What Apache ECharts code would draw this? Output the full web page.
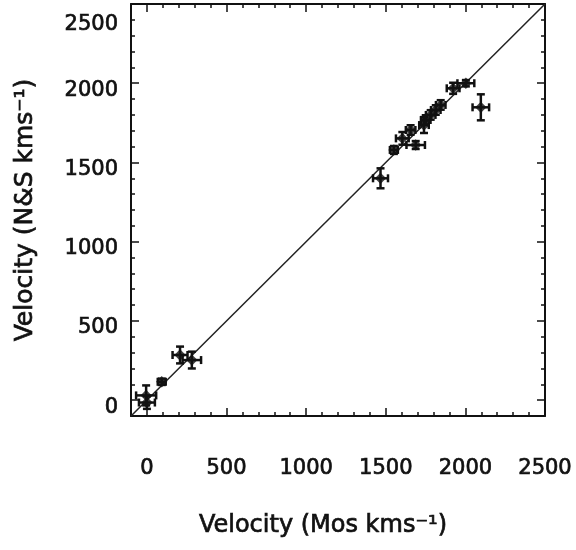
<!DOCTYPE html>
<html>
<head>
<meta charset="utf-8">
<script src="https://cdn.jsdelivr.net/npm/echarts@6/dist/echarts.min.js"></script>
<style>
html, body { margin: 0; background: #fff; }
#main { width: 576px; height: 550px; }
</style>
</head>
<body>
<div id="main"></div>
<script>
// velocities in km/s (Mos = x, N&S = y)
var mosVel = [-5, 0, 93, 208, 282, 1467, 1551, 1604, 1656, 1688, 1740, 1751, 1782, 1814, 1845, 1923, 2003, 2097];
var nsVel  = [30, -15, 116, 285, 253, 1400, 1579, 1652, 1705, 1610, 1736, 1768, 1800, 1831, 1863, 1968, 2000, 1848];
// 1-sigma errors
var mosErr = [63, 50, 25, 47, 58, 47, 25, 40, 30, 58, 30, 30, 30, 30, 30, 40, 53, 52];
var nsErr  = [63, 40, 20, 53, 53, 63, 25, 40, 30, 25, 50, 30, 30, 30, 30, 35, 20, 82];
// one-to-one line ends
var lineEnds = [-100, 2500];

var AX_MIN = -100, AX_MAX = 2500;
var INK = '#111';
var FONT = 'DejaVu Sans';
// regular face, thickened a little to look like the scanned lettering
var textInk = { color: INK, fontFamily: FONT, textBorderColor: INK, textBorderWidth: 0.7 };

var points = mosVel.map(function (v, i) { return [v, nsVel[i], mosErr[i], nsErr[i]]; });

function errBars(params, api) {
  var x = api.value(0), y = api.value(1), ex = api.value(2), ey = api.value(3);
  var c = api.coord([x, y]);
  var l = api.coord([x - ex, y])[0], r = api.coord([x + ex, y])[0];
  var t = api.coord([x, y + ey])[1], b = api.coord([x, y - ey])[1];
  var cap = 4;
  var st = { stroke: INK, lineWidth: 2.5 };
  return {
    type: 'group',
    children: [
      { type: 'line', shape: { x1: l, y1: c[1], x2: r, y2: c[1] }, style: st },
      { type: 'line', shape: { x1: l, y1: c[1] - cap, x2: l, y2: c[1] + cap }, style: st },
      { type: 'line', shape: { x1: r, y1: c[1] - cap, x2: r, y2: c[1] + cap }, style: st },
      { type: 'line', shape: { x1: c[0], y1: t, x2: c[0], y2: b }, style: st },
      { type: 'line', shape: { x1: c[0] - cap, y1: t, x2: c[0] + cap, y2: t }, style: st },
      { type: 'line', shape: { x1: c[0] - cap, y1: b, x2: c[0] + cap, y2: b }, style: st }
    ]
  };
}

function withInk(extra) {
  return Object.assign({}, textInk, extra);
}

// major axis (labels, long ticks) and minor axis (short ticks every 100)
function axis(pos, major, withLabels) {
  var a = {
    type: 'value',
    position: pos,
    min: AX_MIN,
    max: AX_MAX,
    axisLine: { show: major, onZero: false, lineStyle: { color: INK, width: 2 } },
    axisTick: { show: true, inside: true, length: major ? 8 : 4, lineStyle: { color: INK, width: 1.5 } },
    axisLabel: { show: false },
    splitLine: { show: false }
  };
  if (major) a.splitNumber = 5; else a.interval = 100;
  if (withLabels) {
    a.axisLabel = withInk({
      show: true, showMinLabel: false, fontSize: 21,
      formatter: function (v) { return String(v); }
    });
  }
  return a;
}

var xBottom = axis('bottom', true, true);
xBottom.axisLabel.margin = 42;
xBottom.name = 'Velocity (Mos kms\u207B\u00B9)';
xBottom.nameLocation = 'middle';
xBottom.nameGap = 98;
xBottom.nameTextStyle = withInk({ fontSize: 24, padding: [0, 30, 0, 0] });

var yLeft = axis('left', true, true);
yLeft.axisLabel.margin = 13;
yLeft.axisLabel.formatter = function (v) { return v === 2500 ? '{t|' + v + '}' : '{n|' + v + '}'; };
yLeft.axisLabel.rich = {
  n: withInk({ fontSize: 21, padding: [14, 0, 0, 0] }),
  t: withInk({ fontSize: 21, padding: [42, 0, 0, 0] })
};
yLeft.name = 'Velocity (N&S kms\u207B\u00B9)';
yLeft.nameLocation = 'middle';
yLeft.nameGap = 93;
yLeft.nameTextStyle = withInk({ fontSize: 25 });

var chart = echarts.init(document.getElementById('main'));
chart.setOption({
  backgroundColor: '#fff',
  animation: false,
  grid: { left: 131, right: 31, top: 4, bottom: 134 },
  xAxis: [xBottom, axis('bottom', false), axis('top', true), axis('top', false)],
  yAxis: [yLeft, axis('left', false), axis('right', true), axis('right', false)],
  series: [
    {
      type: 'line',
      data: [[lineEnds[0], lineEnds[0]], [lineEnds[1], lineEnds[1]]],
      showSymbol: false,
      lineStyle: { color: '#222', width: 1.5 },
      silent: true,
      z: 1
    },
    {
      type: 'custom',
      data: points,
      encode: { x: 0, y: 1 },
      renderItem: errBars,
      z: 2
    },
    {
      type: 'scatter',
      data: points,
      encode: { x: 0, y: 1 },
      symbol: 'rect',
      symbolRotate: 45,
      symbolSize: 8,
      itemStyle: { color: INK },
      z: 3
    }
  ]
});
</script>
</body>
</html>
